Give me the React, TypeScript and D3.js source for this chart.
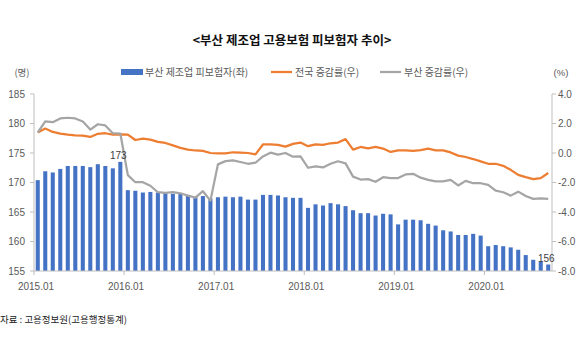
import { useEffect, useRef } from "react"
import * as d3 from "d3"

// 월별 카테고리 (2015.01 ~ 2020.09)
const months: string[] = []
for (let y = 2015; y <= 2020; y++) {
  for (let m = 1; m <= 12; m++) {
    if (y === 2020 && m > 9) break
    months.push(`${y}.${String(m).padStart(2, "0")}`)
  }
}

const yearTicks = ["2015.01", "2016.01", "2017.01", "2018.01", "2019.01", "2020.01"]

// 부산 제조업 피보험자 (천명, 좌축)
const busanInsured = [
  170.4, 171.9, 171.7, 172.3, 172.8, 172.8, 172.8, 172.6, 173.1, 172.8, 172.4, 173.5,
  168.7, 168.6, 168.3, 168.4, 168.3, 168.2, 168.1, 168.1, 167.9, 167.6, 167.7, 167.3,
  167.5, 167.6, 167.5, 167.6, 167.1, 167.1, 167.9, 167.9, 167.8, 167.5, 167.4, 167.4,
  165.7, 166.3, 166.1, 166.5, 166.3, 166.0, 165.3, 164.8, 164.8, 164.4, 164.7, 164.6,
  162.9, 163.7, 163.7, 163.6, 163.0, 162.7, 161.9, 161.7, 161.1, 161.1, 161.3, 161.0,
  159.2, 159.4, 159.2, 159.0, 158.6, 157.7, 156.9, 156.6, 156.1,
]

// 전국 증감률 (%, 우축)
const nationRate = [
  1.39, 1.66, 1.43, 1.32, 1.25, 1.2, 1.18, 1.09, 1.3, 1.34, 1.25, 1.26,
  1.25, 0.88, 0.98, 0.91, 0.75, 0.68, 0.52, 0.35, 0.23, 0.17, 0.14, 0.0,
  -0.03, -0.03, 0.05, 0.02, 0.0, -0.09, 0.58, 0.58, 0.55, 0.43, 0.62, 0.71,
  0.46, 0.59, 0.55, 0.66, 0.71, 0.94, 0.23, 0.41, 0.31, 0.41, 0.3, 0.07,
  0.18, 0.18, 0.14, 0.2, 0.29, 0.18, 0.18, 0.04, -0.18, -0.27, -0.41, -0.57,
  -0.73, -0.73, -0.87, -1.14, -1.48, -1.64, -1.77, -1.7, -1.36,
]

// 부산 증감률 (%, 우축)
const busanRate = [
  1.39, 2.14, 2.09, 2.34, 2.39, 2.34, 2.13, 1.59, 1.95, 1.87, 1.34, 1.32,
  -1.5, -1.98, -1.98, -2.22, -2.66, -2.7, -2.66, -2.73, -2.89, -3.02, -2.59, -3.23,
  -0.77, -0.55, -0.5, -0.61, -0.73, -0.66, -0.23, 0.02, -0.11, 0.0, -0.25, -0.23,
  -1.0, -0.9, -0.98, -0.73, -0.56, -0.7, -1.6, -1.8, -1.77, -1.95, -1.64, -1.7,
  -1.7, -1.45, -1.41, -1.67, -1.82, -1.93, -1.93, -1.82, -2.2, -1.89, -2.05, -2.05,
  -2.16, -2.55, -2.66, -2.89, -2.62, -2.91, -3.11, -3.07, -3.11,
]

const leftTicks = [155, 160, 165, 170, 175, 180, 185]
const rightTicks = [-8, -6, -4, -2, 0, 2, 4]

// 데이터 레이블 (막대 인덱스, 표시값)
const barLabels: [number, string][] = [
  [11, "173"],
  [68, "156"],
]

const FONT_KR = "'Noto Sans CJK KR', 'Noto Sans', sans-serif"
const FONT_NUM = "'Liberation Sans', Arial, sans-serif"

export default function App() {
  const svgRef = useRef<SVGSVGElement>(null)

  useEffect(() => {
    if (!svgRef.current) return
    const svg = d3.select(svgRef.current)
    svg.selectAll("*").remove()

    const W = 580
    const H = 350
    const left = 34
    const right = 552
    const top = 94
    const bottom = 271

    svg.append("rect").attr("width", W).attr("height", H).attr("fill", "#fff")

    // 제목
    svg
      .append("text")
      .attr("x", 292)
      .attr("y", 45)
      .attr("text-anchor", "middle")
      .attr("font-family", FONT_KR)
      .attr("font-weight", "bold")
      .attr("font-size", 12.5)
      .attr("fill", "#111")
      .text("<부산 제조업 고용보험 피보험자 추이>")

    const x = d3.scaleBand<string>().domain(months).range([left, right]).paddingInner(0.46).paddingOuter(0.23)
    const step = x.step()
    const cx = (i: number) => (x(months[i]) as number) + x.bandwidth() / 2

    const yL = d3.scaleLinear().domain([155, 185]).range([bottom, top])
    const yR = d3.scaleLinear().domain([-8, 4]).range([bottom, top])

    const axisColor = "#bfbfbf"
    const labelColor = "#595959"

    // 좌축
    svg.append("line").attr("x1", left).attr("x2", left).attr("y1", top).attr("y2", bottom).attr("stroke", axisColor)
    leftTicks.forEach((t) => {
      svg.append("line").attr("x1", left - 4).attr("x2", left).attr("y1", yL(t)).attr("y2", yL(t)).attr("stroke", axisColor)
      svg
        .append("text")
        .attr("x", 25)
        .attr("y", yL(t) + 3.5)
        .attr("text-anchor", "end")
        .attr("font-family", FONT_NUM)
        .attr("font-size", 10)
        .attr("fill", labelColor)
        .text(t)
    })

    // 우축
    svg.append("line").attr("x1", right).attr("x2", right).attr("y1", top).attr("y2", bottom).attr("stroke", axisColor)
    rightTicks.forEach((t) => {
      svg.append("line").attr("x1", right).attr("x2", right + 4).attr("y1", yR(t)).attr("y2", yR(t)).attr("stroke", axisColor)
      svg
        .append("text")
        .attr("x", 558)
        .attr("y", yR(t) + 3.5)
        .attr("text-anchor", "start")
        .attr("font-family", FONT_NUM)
        .attr("font-size", 10)
        .attr("fill", labelColor)
        .text(t.toFixed(1))
    })

    // 막대
    svg
      .selectAll(".bar")
      .data(busanInsured)
      .enter()
      .append("rect")
      .attr("class", "bar")
      .attr("x", (_, i) => x(months[i]) as number)
      .attr("width", x.bandwidth())
      .attr("y", (d) => yL(d))
      .attr("height", (d) => bottom - yL(d))
      .attr("fill", "#4472c4")

    // X축
    svg.append("line").attr("x1", left).attr("x2", right).attr("y1", bottom).attr("y2", bottom).attr("stroke", axisColor)
    yearTicks.forEach((t) => {
      const i = months.indexOf(t)
      const bx = (x(months[i]) as number) - (step - x.bandwidth()) / 2
      svg.append("line").attr("x1", bx).attr("x2", bx).attr("y1", bottom).attr("y2", bottom + 4).attr("stroke", axisColor)
      svg
        .append("text")
        .attr("x", bx + 2)
        .attr("y", 290)
        .attr("text-anchor", "middle")
        .attr("font-family", FONT_NUM)
        .attr("font-size", 10)
        .attr("fill", labelColor)
        .text(t)
    })

    // 선
    const line = d3
      .line<number>()
      .x((_, i) => cx(i))
      .y((d) => yR(d))

    svg
      .append("path")
      .datum(nationRate)
      .attr("fill", "none")
      .attr("stroke", "#ed7d31")
      .attr("stroke-width", 2.25)
      .attr("stroke-linejoin", "round")
      .attr("d", line)

    svg
      .append("path")
      .datum(busanRate)
      .attr("fill", "none")
      .attr("stroke", "#a5a5a5")
      .attr("stroke-width", 2.25)
      .attr("stroke-linejoin", "round")
      .attr("d", line)

    // 데이터 레이블
    barLabels.forEach(([i, txt]) => {
      svg
        .append("text")
        .attr("x", cx(i) - 2)
        .attr("y", yL(busanInsured[i]) - 3)
        .attr("text-anchor", "middle")
        .attr("font-family", FONT_NUM)
        .attr("font-size", 10)
        .attr("fill", "#404040")
        .text(txt)
    })

    // 단위
    svg
      .append("text")
      .attr("x", 22)
      .attr("y", 76)
      .attr("text-anchor", "middle")
      .attr("font-family", FONT_KR)
      .attr("font-size", 9.5)
      .attr("fill", labelColor)
      .text("(명)")
    svg
      .append("text")
      .attr("x", 561)
      .attr("y", 76)
      .attr("text-anchor", "middle")
      .attr("font-family", FONT_NUM)
      .attr("font-size", 9.5)
      .attr("fill", labelColor)
      .text("(%)")

    // 범례
    const legend = [
      { label: "부산 제조업 피보험자(좌)", color: "#4472c4", type: "bar", x: 121 },
      { label: "전국 증감률(우)", color: "#ed7d31", type: "line", x: 271 },
      { label: "부산 증감률(우)", color: "#a5a5a5", type: "line", x: 380 },
    ]
    legend.forEach((l) => {
      if (l.type === "bar") {
        svg.append("rect").attr("x", l.x).attr("y", 69).attr("width", 22).attr("height", 6).attr("fill", l.color)
      } else {
        svg
          .append("line")
          .attr("x1", l.x)
          .attr("x2", l.x + 21)
          .attr("y1", 72)
          .attr("y2", 72)
          .attr("stroke", l.color)
          .attr("stroke-width", 2.25)
      }
      svg
        .append("text")
        .attr("x", l.x + 24)
        .attr("y", 76)
        .attr("font-family", FONT_KR)
        .attr("font-size", 10)
        .attr("fill", labelColor)
        .text(l.label)
    })

    // 자료
    svg
      .append("text")
      .attr("x", 0)
      .attr("y", 323)
      .attr("font-family", FONT_KR)
      .attr("font-size", 9.5)
      .attr("fill", "#222")
      .text("자료 : 고용정보원(고용행정통계)")
  }, [])

  return (
    <div style={{ position: "absolute", left: 0, top: 0, width: 580, height: 350 }}>
      <svg ref={svgRef} width={580} height={350} style={{ display: "block" }} />
    </div>
  )
}
